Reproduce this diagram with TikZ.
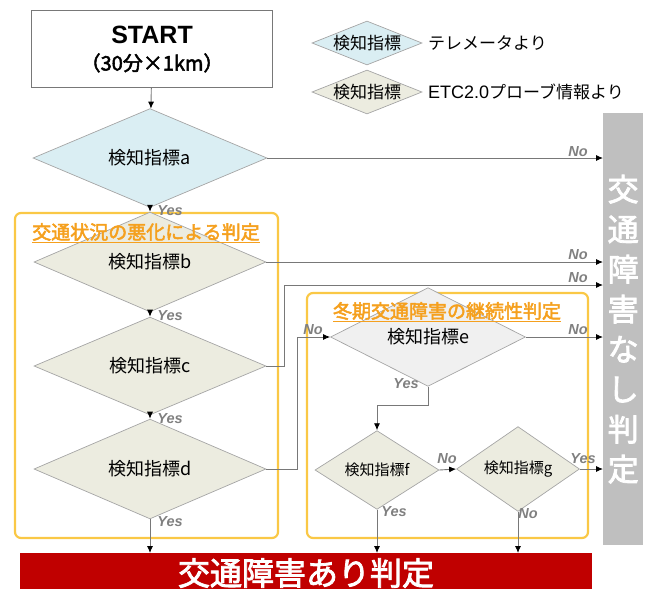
\documentclass[tikz,border=0pt]{standalone}
\usepackage{fontspec}
\setmainfont{Liberation Sans}
\newfontfamily\jp[AutoFakeBold=2.5]{Noto Sans CJK JP}
\usetikzlibrary{shapes.geometric,arrows.meta,calc}
\definecolor{dblue}{RGB}{218,238,243}
\definecolor{dbeige}{RGB}{236,236,224}
\definecolor{dgray}{RGB}{240,240,240}
\definecolor{dline}{RGB}{165,165,165}
\definecolor{cline}{RGB}{120,120,120}
\definecolor{ybox}{RGB}{250,200,70}
\definecolor{ytitle}{RGB}{245,160,30}
\definecolor{nogray}{RGB}{191,191,191}
\definecolor{ared}{RGB}{192,0,0}
\definecolor{lbl}{RGB}{128,128,128}
\begin{document}
\begin{tikzpicture}[x=1pt,y=-1pt,
  dia/.style={diamond,draw=dline,line width=0.7pt,inner sep=0pt,font=\jp\fontsize{18}{20}\selectfont},
  smalldia/.style={dia,font=\jp\fontsize{15}{17}\selectfont},
  legdia/.style={diamond,draw=dline,line width=0.7pt,inner sep=0pt,minimum width=110pt,minimum height=44pt,
    label={[font=\jp\fontsize{17}{19}\selectfont,inner sep=0pt]center:検知指標}},
  legtxt/.style={anchor=west,inner sep=0pt,font=\jp\fontsize{17}{19}\selectfont},
  conn/.style={draw=cline,line width=0.9pt,-{Latex[length=7pt,width=6pt,color=black]}},
  lab/.style={inner sep=0pt,text=lbl,font=\fontsize{14.5}{16}\selectfont\bfseries\itshape},
  group/.style={draw=ybox,line width=2.2pt,rounded corners=6pt},
  gtitle/.style={inner sep=0pt,text=ytitle,font=\jp\fontsize{19}{21}\selectfont\bfseries},
]
\useasboundingbox (0,0) rectangle (650,589);

% groups
\draw[group] (15,213) rectangle (278,538);
\draw[group] (307,293) rectangle (588,538);

% start
\node[draw=cline,line width=1.1pt,minimum width=241pt,minimum height=77pt,inner sep=0pt,align=center,anchor=north west] (start) at (31,10)
  {{\fontsize{25}{28}\selectfont\bfseries START}\\[9pt]{\jp\fontsize{20}{22}\selectfont\bfseries （30分×1km）}};

% legend
\node[legdia,fill=dblue] (l1) at (367,43) {};
\node[legtxt] (l1t) at (428,43) {テレメータより};
\node[legdia,fill=dbeige] (l2) at (367,92) {};
\node[legtxt] (l2t) at (428,92) {{\fontfamily{\rmdefault}\fontsize{18}{19}\selectfont ETC2.0}プローブ情報より};

% right box and bottom bar
\node[fill=nogray,minimum width=40pt,minimum height=432pt,inner sep=0pt,anchor=north west,align=center,text=white,
  font=\jp\fontsize{31}{40}\selectfont\bfseries] (none) at (603,113) {交\\通\\障\\害\\な\\し\\判\\定};
\node[fill=ared,minimum width=572pt,minimum height=36pt,inner sep=0pt,anchor=north west] (ari) at (20,553) {};
\node[text=white,inner sep=0pt,font=\jp\fontsize{32}{34}\selectfont\bfseries] (aritxt) at (306,573) {交通障害あり判定};

% diamonds
\node[dia,fill=dblue,minimum width=234pt,minimum height=88pt] (a) at (150,158) {検知指標a};
\node[dia,fill=dbeige,minimum width=232pt,minimum height=88pt] (b) at (150,262) {検知指標b};
\node[dia,fill=dbeige,minimum width=232pt,minimum height=90pt] (c) at (150,366) {検知指標c};
\node[dia,fill=dbeige,minimum width=232pt,minimum height=92pt] (d) at (150,469) {検知指標d};
\node[dia,fill=dgray,minimum width=195pt,minimum height=73pt] (e) at (428,337) {検知指標e};
\node[smalldia,fill=dbeige,minimum width=124pt,minimum height=74pt] (f) at (377,470) {検知指標f};
\node[smalldia,fill=dbeige,minimum width=123pt,minimum height=72pt] (g) at (518,469) {検知指標g};

% titles
\node[gtitle] (t1) at (146,233) {\underline{交通状況の悪化による判定}};
\node[gtitle] (t2) at (447,312) {\underline{冬期交通障害の継続性判定}};

% connectors
\coordinate (cturn) at (284,285);
\coordinate (dturn) at (297,337);
\coordinate (eturn) at (377,405);
\draw[conn] (start) -- (a);
\draw[conn] (a.east) -- (a.east -| none.west);
\draw[conn] (a) -- (b);
\draw[conn] (b.east) -- (b.east -| none.west);
\draw[conn] (b) -- (c);
\draw[conn] (c.east) -| (cturn) -- (cturn -| none.west);
\draw[conn] (c) -- (d);
\draw[conn] (d.east) -| (dturn) -- (e.west);
\draw[conn] (d.south) -- (d.south |- ari.north);
\draw[conn] (e.east) -- (e.east -| none.west);
\draw[conn] (e.south) |- (eturn) -- (f.north);
\draw[conn] (f.east) -- (g.west);
\draw[conn] (g.east) -- (g.east -| none.west);
\draw[conn] (f.south) -- (f.south |- ari.north);
\draw[conn] (g.south) -- (g.south |- ari.north);

% labels
\node[lab] (ya) at (170,211) {Yes};
\node[lab] (na) at (578,152) {No};
\node[lab] (yb) at (170,316) {Yes};
\node[lab] (nb) at (578,255) {No};
\node[lab] (nc) at (578,278) {No};
\node[lab] (yc) at (170,419) {Yes};
\node[lab] (yd) at (170,522) {Yes};
\node[lab] (nd) at (313,330) {No};
\node[lab] (ne) at (578,330) {No};
\node[lab] (ye) at (406,384) {Yes};
\node[lab] (nf) at (447,459) {No};
\node[lab] (yg) at (583,459) {Yes};
\node[lab] (yf) at (394,512) {Yes};
\node[lab] (ng) at (528,514) {No};
\end{tikzpicture}
\end{document}
